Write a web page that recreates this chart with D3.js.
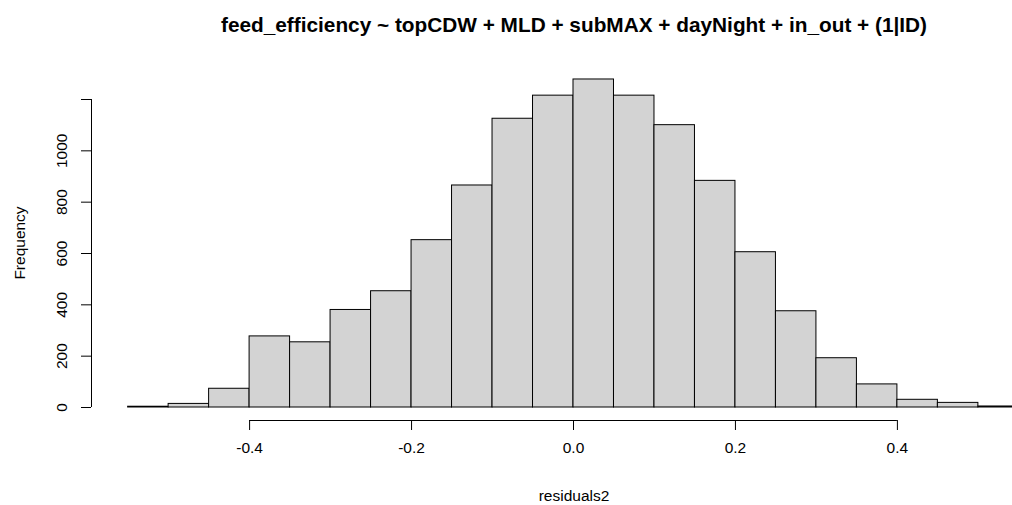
<!DOCTYPE html>
<html>
<head>
<meta charset="utf-8">
<script src="https://cdn.jsdelivr.net/npm/d3@7"></script>
<style>
  body { margin: 0; background: #fff; }
  text { font-family: "Liberation Sans", Arial, sans-serif; fill: #000; }
</style>
</head>
<body>
<script>
// histogram bins (left edges) and counts
var binStarts = [-0.55, -0.50, -0.45, -0.40, -0.35, -0.30, -0.25, -0.20, -0.15, -0.10, -0.05,
                 0.00, 0.05, 0.10, 0.15, 0.20, 0.25, 0.30, 0.35, 0.40, 0.45, 0.50];
var counts = [3, 14, 73, 277, 254, 380, 453, 652, 865, 1125, 1215,
              1278, 1215, 1100, 883, 605, 375, 192, 90, 30, 18, 4];
var binWidth = 0.05;
var xTicks = [-0.4, -0.2, 0.0, 0.2, 0.4];
var yTicks = [0, 200, 400, 600, 800, 1000, 1200];
var yLabels = ["0", "200", "400", "600", "800", "1000", ""];
var title = "feed_efficiency ~ topCDW + MLD + subMAX + dayNight + in_out + (1|ID)";
var xTitle = "residuals2";
var yTitle = "Frequency";

var width = 1012, height = 505;
var labelSize = "15.5px";

var svg = d3.select("body").append("svg")
    .attr("width", width).attr("height", height);

// R style: usr range is bins range +4%
var xScale = d3.scaleLinear().domain([-0.594, 0.594]).range([92, 1054]);
var yScale = d3.scaleLinear().domain([0, 1200]).range([407, 99]);

// bars
svg.append("g").selectAll("rect")
    .data(binStarts)
    .enter().append("rect")
    .attr("x", function(d) { return xScale(d); })
    .attr("width", function(d) { return xScale(d + binWidth) - xScale(d); })
    .attr("y", function(d, i) { return yScale(counts[i]); })
    .attr("height", function(d, i) { return yScale(0) - yScale(counts[i]); })
    .attr("fill", "#d3d3d3")
    .attr("stroke", "#000")
    .attr("stroke-width", 1);

// x axis
var xAxis = d3.axisBottom(xScale)
    .tickValues(xTicks)
    .tickSize(10)
    .tickPadding(12)
    .tickFormat(function(d) { return d.toFixed(1); });
var gx = svg.append("g").attr("transform", "translate(0,420)").call(xAxis);
gx.select(".domain").remove();
gx.append("line")
    .attr("x1", xScale(xTicks[0])).attr("x2", xScale(xTicks[xTicks.length - 1]))
    .attr("y1", 0.5).attr("y2", 0.5)
    .attr("stroke", "#000");
gx.selectAll(".tick line").attr("stroke", "#000");
gx.selectAll(".tick text")
    .style("font-size", labelSize)
    .style("font-family", "Liberation Sans, Arial, sans-serif");

// y axis
var yAxis = d3.axisLeft(yScale)
    .tickValues(yTicks)
    .tickSize(10)
    .tickFormat(function(d, i) { return yLabels[i]; });
var gy = svg.append("g").attr("transform", "translate(91,0)").call(yAxis);
gy.select(".domain").remove();
gy.append("line")
    .attr("x1", 0.5).attr("x2", 0.5)
    .attr("y1", yScale(yTicks[0])).attr("y2", yScale(yTicks[yTicks.length - 1]))
    .attr("stroke", "#000");
gy.selectAll(".tick line").attr("stroke", "#000");
gy.selectAll(".tick text")
    .attr("x", null).attr("dy", null)
    .attr("transform", "translate(-30,0) rotate(-90)")
    .attr("text-anchor", "middle")
    .attr("dominant-baseline", "central")
    .style("font-size", labelSize)
    .style("font-family", "Liberation Sans, Arial, sans-serif");

// titles
svg.append("text")
    .attr("x", 574).attr("y", 24)
    .attr("text-anchor", "middle")
    .attr("dominant-baseline", "central")
    .style("font-size", "20.8px")
    .style("font-weight", "bold")
    .text(title);

svg.append("text")
    .attr("x", 574).attr("y", 495)
    .attr("text-anchor", "middle")
    .attr("dominant-baseline", "central")
    .style("font-size", labelSize)
    .text(xTitle);

svg.append("text")
    .attr("transform", "translate(19,243) rotate(-90)")
    .attr("text-anchor", "middle")
    .attr("dominant-baseline", "central")
    .style("font-size", labelSize)
    .text(yTitle);
</script>
</body>
</html>
